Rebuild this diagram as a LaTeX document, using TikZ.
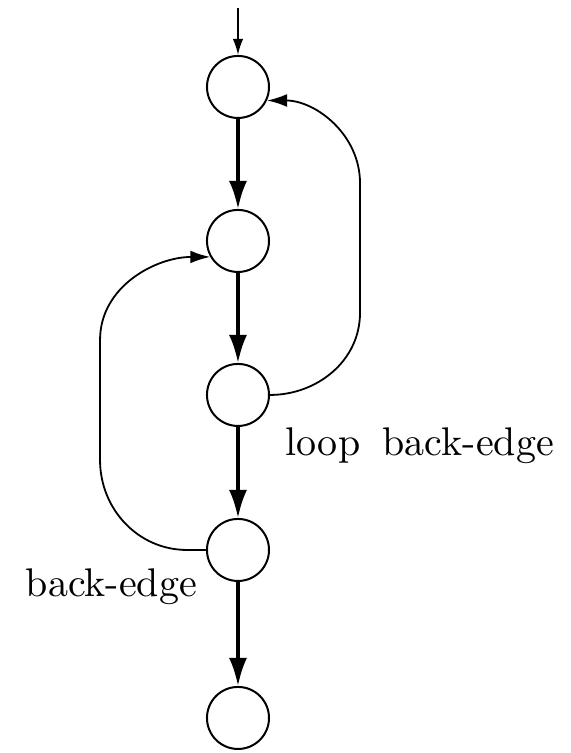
\documentclass[tikz,border=0pt]{standalone}
\usepackage{amsmath}
\usetikzlibrary{arrows.meta}

\begin{document}
\begin{tikzpicture}[
    block/.style={circle, draw, line width=0.5pt, inner sep=0pt, minimum size=0.545cm},
    flow/.style={line width=0.8pt, -{Latex[length=7pt,width=4.5pt]}},
    entry/.style={line width=0.4pt, -{Latex[length=4pt,width=2.6pt]}},
    backedge/.style={line width=0.45pt, -{Latex[length=5pt,width=3.2pt]}}]
  \useasboundingbox (0,0) rectangle (5.017,-6.616);

  % the blocks of the flow graph
  \node[block] (n1) at (2.091,-0.764) {};
  \node[block] (n2) at (2.091,-2.117) {};
  \node[block] (n3) at (2.091,-3.470) {};
  \node[block] (n4) at (2.091,-4.832) {};
  \node[block] (n5) at (2.091,-6.308) {};

  % the texts
  \node[anchor=base west, inner sep=0pt] (lbl1) at (2.504,-3.998) {loop\hskip5.6pt back-edge};
  \node[anchor=base west, inner sep=0pt] (lbl2) at (0.220,-5.245) {back-edge};

  % corners of the two back-edges (used to route the curves)
  \coordinate (in) at (2.091,-0.070);
  \coordinate (r1) at (3.163,-2.750);
  \coordinate (r2) at (3.163,-1.608);
  \coordinate (l0) at (1.643,-4.832);
  \coordinate (l1) at (0.879,-4.042);
  \coordinate (l2) at (0.879,-2.987);

  % draw the arrows
  \draw[entry] (in) -- (n1);
  \draw[flow] (n1) -- (n2);
  \draw[flow] (n2) -- (n3);
  \draw[flow] (n3) -- (n4);
  \draw[flow] (n4) -- (n5);

  % the back-edges
  \draw[backedge] (n3.east) to[out=0,in=-90] (r1) -- (r2) to[out=90,in=0] (n1.-25);
  \draw[backedge] (n4.west) -- (l0) to[out=180,in=-90] (l1) -- (l2) to[out=90,in=180] (n2.-150);
\end{tikzpicture}
\end{document}
